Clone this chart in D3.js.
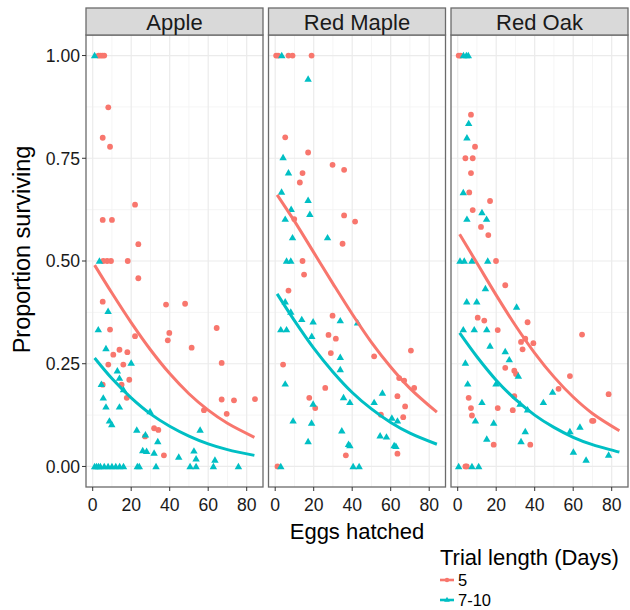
<!DOCTYPE html>
<html>
<head>
<meta charset="utf-8">
<script src="https://cdn.jsdelivr.net/npm/d3@7"></script>
<style>
  body { margin: 0; background: #fff; }
  svg text { font-family: "Liberation Sans", Arial, sans-serif; }
</style>
</head>
<body>
<div id="chart"></div>
<script>
// facets and groups
const facets = ["Apple", "Red Maple", "Red Oak"];
const groups = ["5", "7-10"];
const groupColors = ["#F8766D", "#00BFC4"];
const xTicks = [0, 20, 40, 60, 80];
const yTicks = [0, 0.25, 0.5, 0.75, 1];

// observed points [eggs hatched, proportion surviving]
const appleShort = [[3,1],[4,1],[5,1],[6,1],[8.1,0.874],[5.2,0.80],[9,0.778],[22,0.637],[5.2,0.60],[10,0.60],
  [23.7,0.541],[5.5,0.5],[7.5,0.5],[9.5,0.5],[18.2,0.5],[23.7,0.458],[5.2,0.401],[9,0.333],[38.1,0.394],[48,0.396],
  [39.8,0.325],[39,0.307],[22,0.317],[51.4,0.289],[64.4,0.337],[67,0.252],[10.7,0.272],[13.9,0.284],[18,0.278],
  [8.1,0.248],[15.9,0.248],[19,0.211],[5.2,0.199],[15,0.199],[17.7,0.167],[67,0.163],[73.4,0.161],[84.3,0.164],
  [57.8,0.137],[69.6,0.128],[31.9,0.093],[34.1,0.089],[27.2,0.073],[37,0.027]];
const appleLong = [[1,1],[3.5,0.5],[8,0.378],[2.9,0.333],[6.9,0.287],[20,0.252],[12.8,0.233],[13.9,0.215],[4.5,0.2],
  [16,0.187],[5.5,0.167],[6.9,0.145],[13.9,0.145],[8.7,0.111],[9.9,0.102],[29.8,0.134],[22.9,0.089],[27.4,0.077],
  [55.8,0.089],[33.8,0.061],[26,0.039],[28,0.037],[31.9,0.033],[44.7,0.023],[52.6,0.038],[53.7,0.019],[63.5,0.016],
  [1,0],[2,0],[3,0],[4,0],[6,0],[8,0],[10,0],[12,0],[14,0],[16,0],[23.2,0],[24.2,0],[32.9,0],[50.6,0],[53.7,0],
  [62.7,0],[75.7,0]];
const mapleShort = [[0.5,1],[1.5,1],[6.9,1],[9,1],[18.9,1],[5.2,0.801],[17.1,0.764],[29.8,0.734],[35.8,0.722],
  [14.2,0.714],[12.8,0.691],[35.8,0.611],[9.9,0.602],[41.5,0.596],[35,0.542],[14.2,0.5],[15,0.467],[6.9,0.428],
  [29.8,0.367],[27.7,0.32],[31.5,0.311],[70.5,0.282],[28.9,0.276],[51.4,0.268],[4.1,0.248],[64.4,0.215],[67,0.209],
  [72.2,0.191],[26,0.191],[63.5,0.171],[17.7,0.167],[20.8,0.142],[67.5,0.146],[54.9,0.126],[66.5,0.12],[36.7,0.027],
  [63.5,0.031],[1.2,0]];
const mapleLong = [[3.4,1],[17.1,0.943],[4.1,0.752],[6.9,0.715],[3.3,0.668],[17.1,0.648],[8.3,0.626],[5.2,0.602],
  [18,0.614],[9,0.557],[27.2,0.557],[5.9,0.5],[8.1,0.5],[5.2,0.401],[8.1,0.376],[13.8,0.358],[19.7,0.352],[33.8,0.355],
  [42.8,0.35],[2.9,0.333],[5.9,0.333],[19,0.317],[33.8,0.266],[33.8,0.236],[5.2,0.201],[55.7,0.179],[35.5,0.168],
  [38.8,0.156],[51.4,0.156],[19.7,0.152],[60.6,0.118],[63.5,0.111],[9.3,0.111],[18.9,0.106],[34.6,0.087],[54.5,0.075],
  [57.8,0.072],[17.1,0.061],[38.1,0.054],[38.8,0.051],[61.8,0.051],[62.7,0.049],[2.9,0],[40.5,0],[43.6,0]];
const oakShort = [[0.5,1],[1.5,1],[6.9,0.856],[9,0.778],[4,0.75],[7.8,0.75],[6.9,0.714],[6,0.667],[16.8,0.646],
  [7.8,0.624],[12.1,0.583],[15.9,0.563],[19.9,0.5],[24.7,0.441],[10.4,0.362],[13.8,0.355],[36.3,0.351],[20.8,0.332],
  [64.6,0.321],[32.9,0.303],[35.1,0.311],[33.7,0.285],[39.3,0.3],[24.7,0.24],[29.4,0.233],[30.3,0.225],[58.3,0.22],
  [52.4,0.189],[78.4,0.176],[29.4,0.171],[5.7,0.167],[6.9,0.142],[20.8,0.142],[28.6,0.137],[7.4,0.124],[69.8,0.111],
  [70.5,0.111],[18.7,0.053],[37.7,0.053],[4,0],[4.7,0]];
const oakLong = [[3,1],[4.5,1],[5.5,1],[5.7,0.835],[4.8,0.8],[2.9,0.667],[12.6,0.618],[15,0.602],[4.8,0.602],
  [1.2,0.5],[3.4,0.5],[7.4,0.5],[15.6,0.5],[14.4,0.433],[4.7,0.401],[9.9,0.401],[30.6,0.388],[2.9,0.333],[8.6,0.333],
  [15.1,0.333],[16.8,0.293],[24.7,0.28],[26.8,0.26],[4,0.252],[31.5,0.22],[5.2,0.201],[19.9,0.201],[49.3,0.181],
  [44.5,0.156],[12.6,0.156],[32.4,0.152],[36.3,0.138],[9.2,0.111],[18.7,0.106],[63.5,0.096],[35.1,0.085],[58.3,0.085],
  [15.1,0.067],[32.9,0.061],[60.1,0.035],[78.4,0.028],[66.7,0.016],[0.5,0],[7.4,0],[10.9,0]];

// fitted curves, read at these x positions
const fitX = [1, 10, 20, 30, 40, 50, 60, 70, 84];
const appleShortFit = [0.490, 0.422, 0.350, 0.284, 0.226, 0.177, 0.137, 0.105, 0.071];
const appleLongFit  = [0.264, 0.214, 0.167, 0.128, 0.098, 0.074, 0.055, 0.041, 0.027];
const mapleShortFit = [0.661, 0.597, 0.521, 0.445, 0.371, 0.302, 0.242, 0.190, 0.132];
const mapleLongFit  = [0.420, 0.355, 0.288, 0.230, 0.180, 0.140, 0.107, 0.081, 0.054];
const oakShortFit   = [0.565, 0.495, 0.417, 0.343, 0.276, 0.218, 0.169, 0.129, 0.087];
const oakLongFit    = [0.325, 0.267, 0.210, 0.163, 0.125, 0.095, 0.071, 0.053, 0.035];

const points = [[appleShort, appleLong], [mapleShort, mapleLong], [oakShort, oakLong]];
const fits = [[appleShortFit, appleLongFit], [mapleShortFit, mapleLongFit], [oakShortFit, oakLongFit]];

const width = 630, height = 610;
const panelW = 177, gap = 5.5, left0 = 86;
const stripTop = 8, panelTop = 35, panelBottom = 487;
const titleSize = 22, tickSize = 17.6;

const svg = d3.select("#chart").append("svg").attr("width", width).attr("height", height);

const y = d3.scaleLinear().domain([-0.05, 1.05]).range([panelBottom, panelTop]);
const xMinor = [10, 30, 50, 70];
const yMinor = [0.125, 0.375, 0.625, 0.875];

facets.forEach((name, i) => {
  const x0 = left0 + i * (panelW + gap);
  const x = d3.scaleLinear().domain([-3.48, 88.47]).range([x0, x0 + panelW]);
  const g = svg.append("g");

  // grid
  g.selectAll(".minx").data(xMinor).join("line")
    .attr("x1", d => x(d)).attr("x2", d => x(d)).attr("y1", panelTop).attr("y2", panelBottom)
    .attr("stroke", "#f2f2f2").attr("stroke-width", 0.8);
  g.selectAll(".miny").data(yMinor).join("line")
    .attr("x1", x0).attr("x2", x0 + panelW).attr("y1", d => y(d)).attr("y2", d => y(d))
    .attr("stroke", "#f2f2f2").attr("stroke-width", 0.8);
  g.selectAll(".majx").data(xTicks).join("line")
    .attr("x1", d => x(d)).attr("x2", d => x(d)).attr("y1", panelTop).attr("y2", panelBottom)
    .attr("stroke", "#ebebeb").attr("stroke-width", 1.2);
  g.selectAll(".majy").data(yTicks).join("line")
    .attr("x1", x0).attr("x2", x0 + panelW).attr("y1", d => y(d)).attr("y2", d => y(d))
    .attr("stroke", "#ebebeb").attr("stroke-width", 1.2);

  // points
  groups.forEach((grp, k) => {
    const data = points[i][k];
    if (k === 0) {
      g.append("g").selectAll("circle").data(data).join("circle")
        .attr("cx", d => x(d[0])).attr("cy", d => y(d[1])).attr("r", 2.9)
        .attr("fill", groupColors[k]);
    } else {
      g.append("g").selectAll("path").data(data).join("path")
        .attr("d", d3.symbol(d3.symbolTriangle, 24))
        .attr("transform", d => `translate(${x(d[0])},${y(d[1]) + 0.6})`)
        .attr("fill", groupColors[k]);
    }
  });

  // fitted lines
  const line = d3.line().x(d => x(d[0])).y(d => y(d[1])).curve(d3.curveCatmullRom);
  groups.forEach((grp, k) => {
    g.append("path")
      .datum(fitX.map((v, j) => [v, fits[i][k][j]]))
      .attr("d", line).attr("fill", "none")
      .attr("stroke", groupColors[k]).attr("stroke-width", 3).attr("stroke-linecap", "butt");
  });

  // panel border
  g.append("rect").attr("x", x0).attr("y", panelTop).attr("width", panelW).attr("height", panelBottom - panelTop)
    .attr("fill", "none").attr("stroke", "#6b6b6b").attr("stroke-width", 1.3);

  // strip
  g.append("rect").attr("x", x0).attr("y", stripTop).attr("width", panelW).attr("height", panelTop - stripTop)
    .attr("fill", "#d9d9d9").attr("stroke", "#6b6b6b").attr("stroke-width", 1.3);
  g.append("text").attr("x", x0 + panelW / 2).attr("y", 29.5).attr("text-anchor", "middle")
    .attr("font-size", titleSize).attr("fill", "#1a1a1a").text(name);

  // x axis
  const xAxis = g.append("g").attr("transform", `translate(0,${panelBottom})`);
  xAxis.selectAll("line").data(xTicks).join("line")
    .attr("x1", d => x(d)).attr("x2", d => x(d)).attr("y1", 0).attr("y2", 4)
    .attr("stroke", "#333").attr("stroke-width", 1);
  xAxis.selectAll("text").data(xTicks).join("text")
    .attr("x", d => x(d)).attr("y", 24).attr("text-anchor", "middle")
    .attr("font-size", tickSize).attr("fill", "#1a1a1a").text(d => d);
});

// y axis (first panel only)
const yAxis = svg.append("g").attr("transform", `translate(${left0},0)`);
yAxis.selectAll("line").data(yTicks).join("line")
  .attr("x1", -4).attr("x2", 0).attr("y1", d => y(d)).attr("y2", d => y(d))
  .attr("stroke", "#333").attr("stroke-width", 1);
yAxis.selectAll("text").data(yTicks).join("text")
  .attr("x", -6).attr("y", d => y(d)).attr("dy", "0.36em").attr("text-anchor", "end")
  .attr("font-size", tickSize).attr("fill", "#1a1a1a").text(d3.format(".2f"));

// axis titles
svg.append("text").attr("x", (left0 + left0 + 3 * panelW + 2 * gap) / 2).attr("y", 539)
  .attr("text-anchor", "middle").attr("font-size", titleSize).attr("fill", "#000").text("Eggs hatched");
svg.append("text").attr("transform", `translate(30,${(stripTop + panelBottom) / 2 + 2}) rotate(-90)`)
  .attr("text-anchor", "middle").attr("font-size", 23.5).attr("fill", "#000").text("Proportion surviving");

// legend
const legend = svg.append("g").attr("transform", "translate(440,0)");
legend.append("text").attr("x", 0).attr("y", 565).attr("font-size", titleSize).attr("fill", "#000")
  .text("Trial length (Days)");
groups.forEach((grp, k) => {
  const ly = 580 + k * 20;
  legend.append("line").attr("x1", 0).attr("x2", 14).attr("y1", ly).attr("y2", ly)
    .attr("stroke", groupColors[k]).attr("stroke-width", 2.6);
  if (k === 0) {
    legend.append("circle").attr("cx", 7).attr("cy", ly).attr("r", 2.2).attr("fill", groupColors[k]);
  } else {
    legend.append("path").attr("d", d3.symbol(d3.symbolTriangle, 14))
      .attr("transform", `translate(7,${ly})`).attr("fill", groupColors[k]);
  }
  legend.append("text").attr("x", 18).attr("y", ly + 5.5).attr("font-size", 16.5).attr("fill", "#000").text(grp);
});
</script>
</body>
</html>
